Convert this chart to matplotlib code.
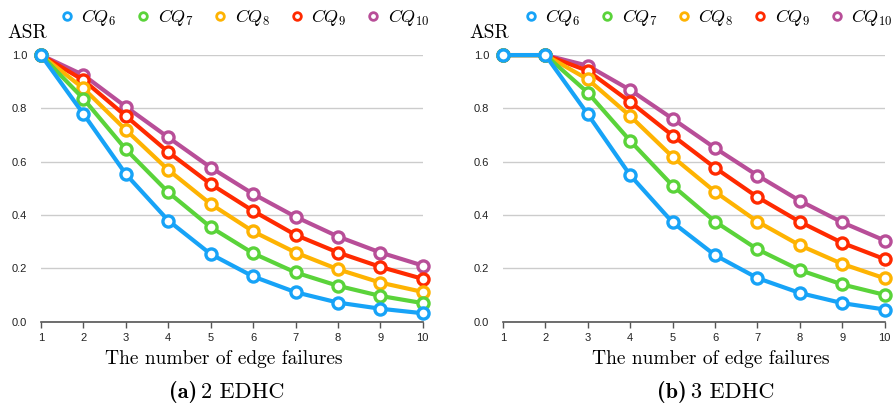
import matplotlib
matplotlib.use("Agg")
import matplotlib.pyplot as plt
from matplotlib.lines import Line2D

plt.rcParams['mathtext.fontset'] = 'cm'

failures = [1, 2, 3, 4, 5, 6, 7, 8, 9, 10]
labels = [r"$CQ_6$", r"$CQ_7$", r"$CQ_8$", r"$CQ_9$", r"$CQ_{10}$"]
colors = ["#17A3F7", "#5AD33A", "#FEB302", "#FF2A00", "#B84E98"]

# (a) 2 EDHC
cq6_a = [1.0, 0.779, 0.553, 0.379, 0.253, 0.169, 0.110, 0.071, 0.048, 0.031]
cq7_a = [1.0, 0.836, 0.646, 0.485, 0.354, 0.256, 0.184, 0.134, 0.096, 0.069]
cq8_a = [1.0, 0.875, 0.719, 0.569, 0.441, 0.338, 0.259, 0.196, 0.146, 0.111]
cq9_a = [1.0, 0.906, 0.771, 0.636, 0.516, 0.415, 0.325, 0.259, 0.205, 0.160]
cq10_a = [1.0, 0.925, 0.806, 0.691, 0.578, 0.479, 0.393, 0.319, 0.259, 0.210]

# (b) 3 EDHC
cq6_b = [1.0, 1.0, 0.778, 0.549, 0.372, 0.249, 0.163, 0.107, 0.069, 0.045]
cq7_b = [1.0, 1.0, 0.859, 0.678, 0.510, 0.375, 0.271, 0.193, 0.139, 0.100]
cq8_b = [1.0, 1.0, 0.909, 0.771, 0.618, 0.487, 0.375, 0.286, 0.216, 0.162]
cq9_b = [1.0, 1.0, 0.941, 0.824, 0.698, 0.577, 0.467, 0.374, 0.295, 0.234]
cq10_b = [1.0, 1.0, 0.960, 0.869, 0.761, 0.651, 0.548, 0.453, 0.372, 0.304]

yticks = [0.0, 0.2, 0.4, 0.6, 0.8, 1.0]

fig = plt.figure(figsize=(8.94, 4.08), dpi=100)
ax_a = fig.add_axes([0.0459, 0.212, 0.427, 0.653])
ax_b = fig.add_axes([0.5626, 0.212, 0.427, 0.653])

# axes, series, tag, name, legend x, xlabel x, caption split x
panels = [
    (ax_a, [cq6_a, cq7_a, cq8_a, cq9_a, cq10_a], "(a)", "2 EDHC", 0.53, 0.479, 0.414),
    (ax_b, [cq6_b, cq7_b, cq8_b, cq9_b, cq10_b], "(b)", "3 EDHC", 0.535, 0.545, 0.487),
]

for ax, series, tag, name, lx, xl, cx in panels:
    # draw in reverse so blue ends on top
    for vals, c in reversed(list(zip(series, colors))):
        ax.plot(failures, vals, color=c, linewidth=3.0, marker='o',
                markersize=8, markerfacecolor='white', markeredgecolor=c,
                markeredgewidth=2.4, clip_on=False, zorder=3)
    ax.set_xlim(1, 10)
    ax.set_ylim(0, 1.0)
    ax.set_xticks(failures)
    ax.set_yticks(yticks)
    ax.set_yticklabels([f"{v:.1f}" for v in yticks])
    ax.grid(axis='y', color='#cccccc', linewidth=1.0)
    ax.set_axisbelow(True)
    for s in ['left', 'right', 'top']:
        ax.spines[s].set_visible(False)
    ax.spines['bottom'].set_color('#555555')
    ax.spines['bottom'].set_linewidth(1.2)
    ax.tick_params(axis='x', length=4, width=1, color='#555555',
                   labelsize=8, pad=4, labelcolor='#222222')
    ax.tick_params(axis='y', length=0, labelsize=8, pad=10,
                   labelcolor='#222222')
    for t in ax.get_xticklabels() + ax.get_yticklabels():
        t.set_fontfamily('Liberation Sans')

    ax.text(-0.088, 1.05, "ASR", transform=ax.transAxes, fontsize=14,
            family='cmr10', ha='left', va='bottom')
    ax.text(xl, -0.141, "The number of edge failures", transform=ax.transAxes,
            fontsize=14, family='cmr10', ha='center', va='center')
    ax.text(cx - 0.006, -0.265, tag, transform=ax.transAxes, fontsize=16,
            family='cmb10', ha='right', va='center')
    ax.text(cx + 0.006, -0.265, name, transform=ax.transAxes, fontsize=16,
            family='cmr10', ha='left', va='center')

    handles = [Line2D([], [], linestyle='none', marker='o', markersize=5.5,
                      markerfacecolor='white', markeredgecolor=c,
                      markeredgewidth=2.0) for c in colors]
    ax.legend(handles, labels, loc='lower center', bbox_to_anchor=(lx, 1.075),
              ncol=5, frameon=False, fontsize=13, handletextpad=0.3,
              columnspacing=1.0, handlelength=1.0, borderaxespad=0)

fig.savefig("out.png", dpi=100)
